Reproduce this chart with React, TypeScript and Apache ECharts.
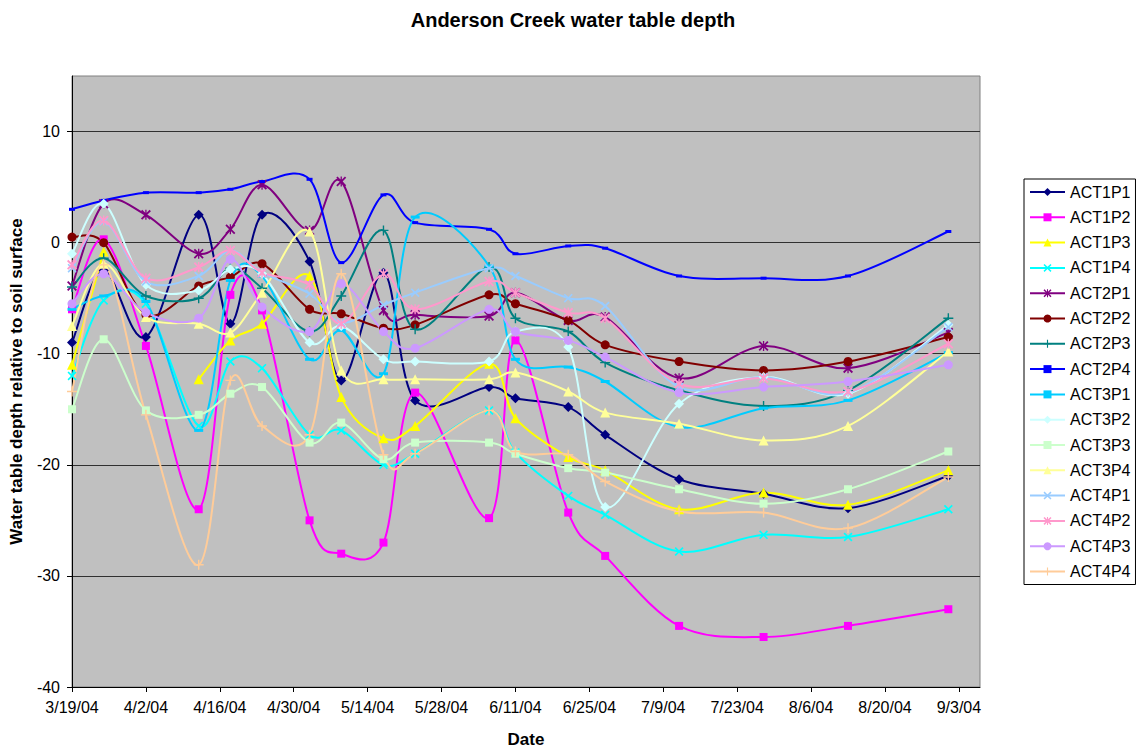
import React, { useEffect, useRef } from "react";
import * as echarts from "echarts";

const dates = ["3/19/04","3/25/04","4/2/04","4/12/04","4/18/04","4/24/04","5/3/04","5/9/04","5/17/04","5/23/04","6/6/04","6/11/04","6/21/04","6/28/04","7/12/04","7/28/04","8/13/04","9/1/04"];

const seriesNames = ["ACT1P1","ACT1P2","ACT1P3","ACT1P4","ACT2P1","ACT2P2","ACT2P3","ACT2P4","ACT3P1","ACT3P2","ACT3P3","ACT3P4","ACT4P1","ACT4P2","ACT4P3","ACT4P4"];

const ACT1P1 = [-9.0, -2.5, -8.5, 2.5, -7.3, 2.5, -1.7, -12.4, -2.7, -14.2, -13.0, -14.0, -14.8, -17.3, -21.3, -22.6, -23.9, -21.0];
const ACT1P2 = [-6.0, 0.3, -9.3, -24.0, -4.7, -6.1, -25.0, -28.0, -27.0, -13.5, -24.8, -8.8, -24.3, -28.2, -34.5, -35.5, -34.5, -33.0];
const ACT1P3 = [-11.0, -0.8, null, -12.3, -8.8, -7.3, -3.0, -13.9, -17.6, -16.5, -10.9, -15.8, -19.3, -20.5, -24.0, -22.5, -23.6, -20.5];
const ACT1P4 = [-12.0, -5.2, -5.5, -16.5, -10.7, -11.3, -17.3, -16.9, -20.0, -19.0, -15.1, -18.9, -22.8, -24.5, -27.8, -26.3, -26.5, -24.0];
const ACT2P1 = [-3.9, 3.5, 2.5, -1.0, 1.2, 5.2, 1.1, 5.5, -6.1, -6.5, -6.6, -4.5, -7.0, -6.7, -12.2, -9.3, -11.3, -8.1];
const ACT2P2 = [0.5, 0.0, -6.5, -3.9, -3.1, -1.9, -6.0, -6.4, -7.7, -7.4, -4.7, -5.5, -7.0, -9.2, -10.7, -11.5, -10.7, -8.5];
const ACT2P3 = [-4.0, -1.4, -4.8, -5.0, -2.3, -4.1, -8.0, -4.8, 1.1, -7.8, -2.2, -6.8, -8.0, -10.8, -13.3, -14.7, -13.3, -6.8];
const ACT2P4 = [3.0, 3.8, 4.5, 4.5, 4.8, 5.5, 5.7, -1.8, 4.3, 1.8, 1.2, -1.0, -0.3, -0.5, -3.0, -3.2, -3.0, 1.0];
const ACT3P1 = [-6.0, -4.8, -5.3, -16.9, -3.4, -3.0, -10.5, -7.9, -11.8, 2.3, -2.1, -10.5, -11.2, -12.5, -16.6, -14.9, -14.2, -9.9];
const ACT3P2 = [-1.0, 3.5, -3.8, -4.3, -2.4, -2.8, -9.0, -7.5, -10.5, -10.7, -10.7, -8.0, -9.4, -23.8, -14.5, -12.1, -13.6, -7.4];
const ACT3P3 = [-15.0, -8.7, -15.1, -15.5, -13.6, -13.0, -18.0, -16.2, -19.5, -18.0, -18.0, -19.0, -20.3, -20.7, -22.2, -23.5, -22.2, -18.8];
const ACT3P4 = [-7.5, -1.9, -6.7, -7.3, -8.1, -4.5, 1.0, -11.5, -12.3, -12.3, -12.3, -11.7, -13.4, -15.3, -16.3, -17.8, -16.5, -9.8];
const ACT4P1 = [-2.3, 1.9, -3.5, -3.0, -0.7, -2.7, -4.6, -7.2, -5.6, -4.5, -2.3, -3.0, -5.0, -5.7, -13.0, -12.1, -13.5, -7.6];
const ACT4P2 = [-2.0, 2.0, -3.2, -2.2, -0.7, -2.7, -3.8, -7.3, -2.8, -6.0, -3.5, -4.5, -6.3, -6.8, -12.7, -12.2, -13.4, -9.1];
const ACT4P3 = [-5.5, -2.8, -6.3, -6.8, -1.5, -5.8, -8.0, -3.7, -8.0, -9.5, -6.0, -8.0, -8.8, -10.3, -13.5, -13.0, -12.5, -11.0];
const ACT4P4 = [-13.4, -2.0, -15.5, -29.0, -12.4, -16.5, -17.3, -2.8, -19.1, -19.0, -15.1, -18.8, -19.1, -21.5, -24.2, -24.3, -25.7, -21.1];

const seriesValues = [ACT1P1, ACT1P2, ACT1P3, ACT1P4, ACT2P1, ACT2P2, ACT2P3, ACT2P4, ACT3P1, ACT3P2, ACT3P3, ACT3P4, ACT4P1, ACT4P2, ACT4P3, ACT4P4];

const xTickStart = "3/19/04";
const xTickEnd = "9/3/04";
const xAxisEnd = "9/7/04";
const yTicks = [-40, -30, -20, -10, 0, 10];

const X_SYM = "path://M0,1.3L1.3,0L5,3.7L8.7,0L10,1.3L6.3,5L10,8.7L8.7,10L5,6.3L1.3,10L0,8.7L3.7,5Z";
const STAR_SYM = "path://M0,1.3L1.3,0L5,3.7L8.7,0L10,1.3L6.3,5L10,8.7L8.7,10L5,6.3L1.3,10L0,8.7L3.7,5Z M4.35,0H5.65V10H4.35Z";
const PLUS_SYM = "path://M4.3,0H5.7V4.3H10V5.7H5.7V10H4.3V5.7H0V4.3H4.3Z";

const styles: { color: string; symbol: string; size: number | number[] }[] = [
  { color: "#000080", symbol: "diamond", size: 10 },
  { color: "#FF00FF", symbol: "rect", size: 8 },
  { color: "#FFFF00", symbol: "triangle", size: 10 },
  { color: "#00FFFF", symbol: X_SYM, size: 9 },
  { color: "#800080", symbol: STAR_SYM, size: 10 },
  { color: "#800000", symbol: "circle", size: 9 },
  { color: "#008080", symbol: PLUS_SYM, size: 10 },
  { color: "#0000FF", symbol: "rect", size: [6, 3] },
  { color: "#00CCFF", symbol: "rect", size: [9, 3] },
  { color: "#CCFFFF", symbol: "diamond", size: 10 },
  { color: "#CCFFCC", symbol: "rect", size: 8 },
  { color: "#FFFF99", symbol: "triangle", size: 10 },
  { color: "#99CCFF", symbol: X_SYM, size: 9 },
  { color: "#FF99CC", symbol: STAR_SYM, size: 10 },
  { color: "#CC99FF", symbol: "circle", size: 9 },
  { color: "#FFCC99", symbol: PLUS_SYM, size: 10 },
];

function parseDate(s: string): number {
  const [m, d, y] = s.split("/").map(Number);
  return Date.UTC(2000 + y, m - 1, d);
}
const DAY = 86400000;
const t0 = parseDate(xTickStart);
const toDay = (s: string) => Math.round((parseDate(s) - t0) / DAY);
const lastTick = toDay(xTickEnd);
const xMax = toDay(xAxisEnd);
const fmtDay = (v: number) => {
  const dt = new Date(t0 + v * DAY);
  return `${dt.getUTCMonth() + 1}/${dt.getUTCDate()}/${String(dt.getUTCFullYear()).slice(2)}`;
};

export default function App() {
  const ref = useRef<HTMLDivElement>(null);
  useEffect(() => {
    if (!ref.current) return;
    const chart = echarts.init(ref.current, undefined, { renderer: "svg" });
    const days = dates.map(toDay);
    const font = "Arial, 'Liberation Sans', sans-serif";

    // Excel-like smoothed line: cubic Bezier segments through the data points (Catmull-Rom, 1/6)
    const makeCurve = (i: number) => (_params: any, api: any) => {
      const vals = seriesValues[i];
      const runs: number[][][] = [];
      let cur: number[][] = [];
      vals.forEach((v, j) => {
        if (v === null || v === undefined) {
          if (cur.length) runs.push(cur);
          cur = [];
        } else {
          cur.push(api.coord([days[j], v]));
        }
      });
      if (cur.length) runs.push(cur);
      const children: any[] = [];
      for (const pts of runs) {
        for (let k = 0; k < pts.length - 1; k++) {
          const p0 = pts[k - 1] || pts[k];
          const p1 = pts[k];
          const p2 = pts[k + 1];
          const p3 = pts[k + 2] || pts[k + 1];
          children.push({
            type: "bezierCurve",
            silent: true,
            shape: {
              x1: p1[0], y1: p1[1], x2: p2[0], y2: p2[1],
              cpx1: p1[0] + (p2[0] - p0[0]) / 6,
              cpy1: p1[1] + (p2[1] - p0[1]) / 6,
              cpx2: p2[0] - (p3[0] - p1[0]) / 6,
              cpy2: p2[1] - (p3[1] - p1[1]) / 6,
            },
            style: { stroke: styles[i].color, lineWidth: 2, fill: null },
          });
        }
      }
      return { type: "group", children };
    };

    const series: any[] = [];
    seriesNames.forEach((name, i) => {
      series.push({
        name: name + " curve",
        type: "custom",
        coordinateSystem: "cartesian2d",
        silent: true,
        data: [[days[0], seriesValues[i][0]]],
        renderItem: makeCurve(i),
      });
      series.push({
        name,
        type: "line",
        data: seriesValues[i].map((v, j) => [days[j], v]),
        symbol: styles[i].symbol,
        symbolSize: styles[i].size,
        showAllSymbol: true,
        lineStyle: { color: styles[i].color, width: 2, opacity: 0 },
        itemStyle: { color: styles[i].color, borderWidth: 0 },
        emphasis: { disabled: true },
      });
    });

    chart.setOption({
      animation: false,
      backgroundColor: "#ffffff",
      textStyle: { fontFamily: font },
      title: {
        text: "Anderson Creek water table depth",
        left: 568,
        textAlign: "center",
        top: 5,
        textStyle: { fontFamily: font, fontSize: 20, fontWeight: "bold", color: "#000" },
      },
      grid: {
        left: 71,
        top: 76,
        width: 909,
        height: 611,
        show: true,
        backgroundColor: "#C0C0C0",
        borderColor: "#808080",
        borderWidth: 1,
      },
      legend: {
        orient: "vertical",
        left: 1024,
        top: 179,
        padding: [5, 5, 5, 5],
        itemWidth: 35,
        itemHeight: 10,
        itemGap: 9.3,
        selectedMode: false,
        backgroundColor: "#ffffff",
        borderColor: "#000000",
        borderWidth: 1,
        borderRadius: 0,
        lineStyle: { opacity: 1, width: 2 },
        textStyle: { fontFamily: font, fontSize: 16, color: "#000", lineHeight: 16 },
        data: seriesNames,
      },
      xAxis: {
        type: "value",
        min: 0,
        max: xMax,
        interval: 14,
        name: "Date",
        nameLocation: "middle",
        nameGap: 44,
        nameTextStyle: { fontFamily: font, fontSize: 17, fontWeight: "bold", color: "#000" },
        axisLine: { show: true, onZero: false, lineStyle: { color: "#000", width: 1 } },
        axisTick: { show: true, length: 5, inside: false, lineStyle: { color: "#000" } },
        axisLabel: {
          margin: 12,
          fontSize: 16,
          color: "#000",
          fontFamily: font,
          formatter: (v: number) => (v > lastTick ? "" : fmtDay(v)),
          showMaxLabel: false,
        },
        splitLine: { show: false },
      },
      yAxis: {
        type: "value",
        min: -40,
        max: 15,
        interval: 10,
        name: "Water table depth relative to soil surface",
        nameLocation: "middle",
        nameGap: 47,
        nameTextStyle: { fontFamily: font, fontSize: 17, fontWeight: "bold", color: "#000" },
        axisLine: { show: true, onZero: false, lineStyle: { color: "#000", width: 1 } },
        axisTick: { show: true, length: 5, inside: false, lineStyle: { color: "#000" }, customValues: yTicks },
        axisLabel: {
          margin: 12,
          fontSize: 16,
          color: "#000",
          fontFamily: font,
          customValues: yTicks,
          formatter: (v: number) => (v > 10 ? "" : String(v)),
        },
        splitLine: { show: true, lineStyle: { color: "#303030", width: 1 } },
      },
      series,
    });
    return () => chart.dispose();
  }, []);
  return <div ref={ref} style={{ position: "fixed", left: 0, top: 0, width: 1138, height: 754 }} />;
}
